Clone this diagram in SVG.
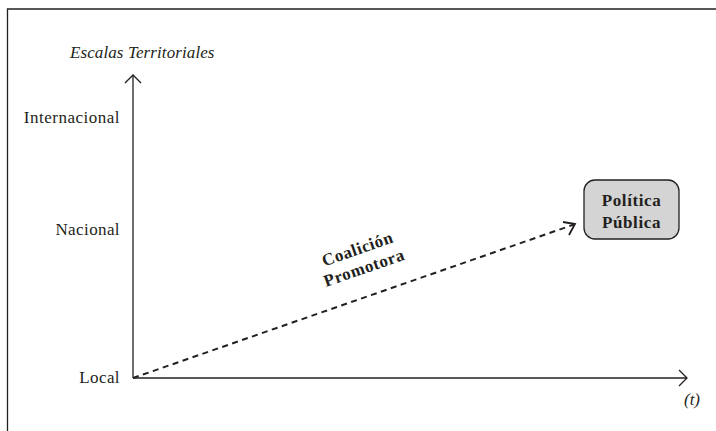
<svg xmlns="http://www.w3.org/2000/svg" width="716" height="431" viewBox="0 0 716 431">
<style>
.lbl{font-family:"Liberation Serif","Times New Roman",serif;font-size:17px;fill:#231f20}
.it{font-style:italic}
.b{font-weight:bold;letter-spacing:0.6px}
.ax{stroke:#231f20;stroke-width:1.3;fill:none}
</style>
<rect width="716" height="431" fill="#fff"/>
<g id="frame">
<polyline class="ax" points="7.5,431 7.5,9 716,9" stroke-width="1.5"/>
</g>
<g id="axes">
<line class="ax" x1="133" y1="378" x2="133" y2="75"/>
<polyline class="ax" points="125,83 133,75 141,83"/>
<line class="ax" x1="133" y1="378" x2="687" y2="378"/>
<polyline class="ax" points="679,370 687,378 679,386"/>
</g>
<g id="connectors">
<line x1="133" y1="378" x2="574" y2="224.5" stroke="#231f20" stroke-width="2" stroke-dasharray="6,4.5"/>
<polyline points="563,222 575,224 569,235" fill="none" stroke="#231f20" stroke-width="1.8"/>
</g>
<g id="labels">
<text class="lbl it" x="70" y="58" style="letter-spacing:0.1px">Escalas Territoriales</text>
<text class="lbl" x="120" y="123" text-anchor="end" style="letter-spacing:0.5px">Internacional</text>
<text class="lbl" x="120" y="235" text-anchor="end" style="letter-spacing:0.4px">Nacional</text>
<text class="lbl" x="120" y="383" text-anchor="end" style="letter-spacing:0.4px">Local</text>
<text class="lbl it" x="692" y="405" text-anchor="middle">(t)</text>
</g>
<g id="coalicion" transform="translate(361,259) rotate(-19.2)">
<text class="lbl b" x="0" y="-5" text-anchor="middle">Coalición</text>
<text class="lbl b" x="0" y="15" text-anchor="middle">Promotora</text>
</g>
<g id="politica-publica">
<rect x="584" y="180" width="95" height="59" rx="11" fill="#d4d4d4" stroke="#231f20" stroke-width="1.3"/>
<text class="lbl b" x="631.5" y="206" text-anchor="middle">Política</text>
<text class="lbl b" x="631.5" y="228" text-anchor="middle">Pública</text>
</g>
</svg>
